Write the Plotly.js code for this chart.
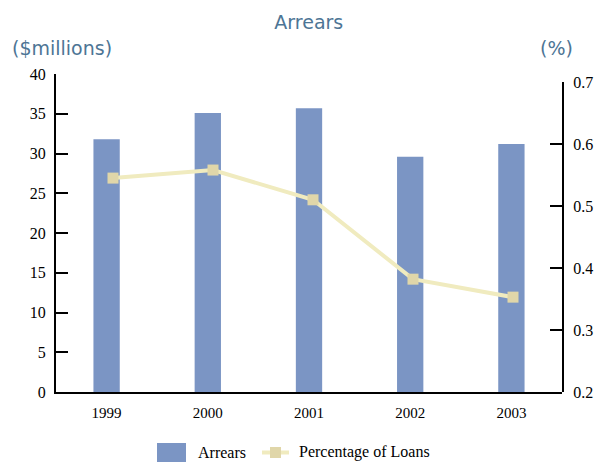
<!DOCTYPE html>
<html>
<head>
<meta charset="utf-8">
<script src="https://cdn.plot.ly/plotly-3.0.1.min.js"></script>
<style>
  html, body { margin: 0; padding: 0; background: #ffffff; }
  #chart { width: 595px; height: 462px; }
</style>
</head>
<body>
<div id="chart"></div>
<script>
// Arrears in $ millions (bars) and arrears as a percentage of loans (line)
const years = ['1999', '2000', '2001', '2002', '2003'];
const arrearsMillions = [31.8, 35.1, 35.7, 29.6, 31.2];
const percentOfLoans = [0.545, 0.558, 0.510, 0.382, 0.353];

const leftTicks = [0, 5, 10, 15, 20, 25, 30, 35, 40];
const rightTicks = [0.2, 0.3, 0.4, 0.5, 0.6, 0.7];

const serif = 'Liberation Serif, Times New Roman, serif';
const sans = 'DejaVu Sans, Lato, sans-serif';
const titleBlue = '#4d7595';
const barColor = '#7b95c4';
const lineColor = '#f0ebbf';
const markerColor = '#e0d6a9';

// plot area in pixels: x 56..562, y 74..392
const px = x => (x - 56) / 506;
const py = y => (392 - y) / 318;

const traces = [
  {
    type: 'bar',
    name: 'Arrears',
    x: years,
    y: arrearsMillions,
    marker: { color: barColor, line: { width: 0 } },
    xaxis: 'x',
    yaxis: 'y',
    showlegend: false
  },
  {
    type: 'scatter',
    mode: 'lines+markers',
    name: 'Percentage of Loans',
    x: years,
    y: percentOfLoans,
    line: { color: lineColor, width: 4 },
    marker: { symbol: 'square', size: 11, color: markerColor },
    xaxis: 'x2',
    yaxis: 'y2',
    showlegend: false
  }
];

const axisCommon = {
  showgrid: false,
  zeroline: false,
  showline: true,
  linecolor: '#000000',
  linewidth: 2
};

const layout = {
  width: 595,
  height: 462,
  margin: { l: 56, r: 33, t: 74, b: 70, pad: 0 },
  paper_bgcolor: '#ffffff',
  plot_bgcolor: 'rgba(0,0,0,0)',
  bargap: 0.74,
  showlegend: false,
  title: {
    text: 'Arrears',
    font: { family: sans, size: 19, color: titleBlue },
    x: 0.519, xref: 'container', xanchor: 'center',
    y: 1 - 22 / 462, yref: 'container', yanchor: 'middle'
  },
  xaxis: Object.assign({}, axisCommon, {
    type: 'category',
    ticks: '',
    tickfont: { family: serif, size: 15, color: '#000000' },
    ticklabelstandoff: 6,
    anchor: 'y'
  }),
  // the percentage line sits on its own category scale, a little right of the bars
  xaxis2: {
    type: 'category',
    overlaying: 'x',
    anchor: 'y2',
    range: [-0.57, 4.49],
    visible: false,
    showgrid: false,
    zeroline: false
  },
  yaxis: Object.assign({}, axisCommon, {
    range: [0, 40],
    tickvals: leftTicks,
    ticktext: leftTicks.map(String),
    ticks: 'inside',
    ticklen: 12,
    tickwidth: 2,
    tickcolor: '#000000',
    ticklabelstandoff: 5,
    tickfont: { family: serif, size: 16, color: '#000000' },
    anchor: 'x'
  }),
  yaxis2: Object.assign({}, axisCommon, {
    range: [0.2, 0.7],
    domain: [0, 310 / 318],
    tickvals: rightTicks,
    ticktext: rightTicks.map(v => v.toFixed(1)),
    side: 'right',
    anchor: 'x',
    ticks: 'inside',
    ticklen: 12,
    tickwidth: 2,
    tickcolor: '#000000',
    ticklabelstandoff: 6,
    tickfont: { family: serif, size: 16, color: '#000000' }
  }),
  // legend keys
  shapes: [
    { type: 'rect', xref: 'paper', yref: 'paper',
      x0: px(157), x1: px(186), y0: py(462), y1: py(443),
      fillcolor: barColor, line: { width: 0 } },
    { type: 'line', xref: 'paper', yref: 'paper',
      x0: px(262), x1: px(289), y0: py(452.5), y1: py(452.5),
      line: { color: lineColor, width: 4 } },
    { type: 'rect', xref: 'paper', yref: 'paper',
      x0: px(270), x1: px(281), y0: py(458), y1: py(447),
      fillcolor: markerColor, line: { width: 0 } }
  ],
  annotations: [
    {
      text: '($millions)', showarrow: false,
      xref: 'paper', yref: 'paper',
      x: px(10), xanchor: 'left',
      y: py(48), yanchor: 'middle',
      font: { family: sans, size: 19, color: titleBlue }
    },
    {
      text: '(%)', showarrow: false,
      xref: 'paper', yref: 'paper',
      x: px(556), xanchor: 'center',
      y: py(48), yanchor: 'middle',
      font: { family: sans, size: 19, color: titleBlue }
    },
    {
      text: 'Arrears', showarrow: false,
      xref: 'paper', yref: 'paper',
      x: px(196), xanchor: 'left',
      y: py(452), yanchor: 'middle',
      font: { family: serif, size: 16, color: '#000000' }
    },
    {
      text: 'Percentage of Loans', showarrow: false,
      xref: 'paper', yref: 'paper',
      x: px(297), xanchor: 'left',
      y: py(452), yanchor: 'middle',
      font: { family: serif, size: 16, color: '#000000' }
    }
  ]
};

Plotly.newPlot('chart', traces, layout, { displayModeBar: false, staticPlot: true });
</script>
</body>
</html>
